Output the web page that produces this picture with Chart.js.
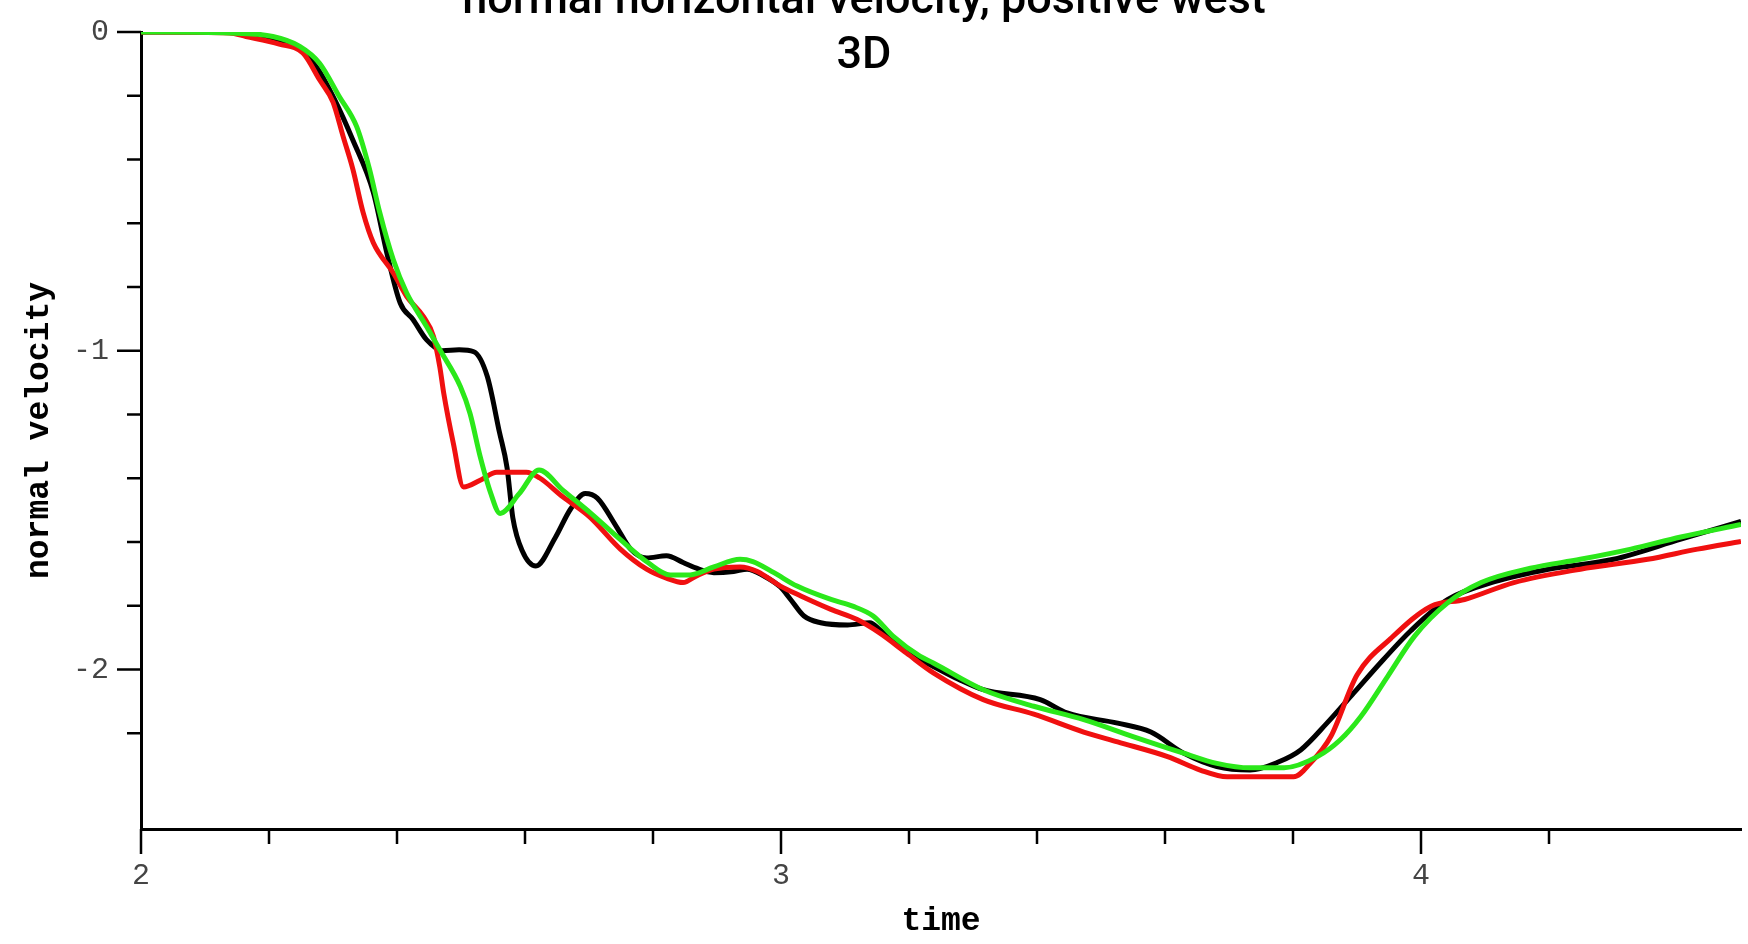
<!DOCTYPE html>
<html>
<head>
<meta charset="utf-8">
<script src="https://cdn.jsdelivr.net/npm/chart.js@4.4.1/dist/chart.umd.min.js"></script>
<style>
    html, body { margin: 0; padding: 0; background: #fff; }
</style>
</head>
<body>
<canvas id="velChart" width="1748" height="944"></canvas>
<script>

/// DATA ///

const titleLines = ['normal horizontal velocity, positive west', '3D'];
const xTitle = 'time';
const yTitle = 'normal velocity';

const blackTime = [2.0, 2.127, 2.18, 2.223, 2.249, 2.276, 2.302, 2.331, 2.363, 2.384, 2.405, 2.425, 2.446, 2.471, 2.497, 2.52,
    2.541, 2.56, 2.572, 2.581, 2.596, 2.617, 2.647, 2.671, 2.694, 2.713, 2.743, 2.765, 2.79, 2.821, 2.847, 2.868, 2.895,
    2.926, 2.947, 2.973, 2.999, 3.015, 3.036, 3.062, 3.104, 3.139, 3.154, 3.18, 3.207, 3.238, 3.278, 3.316, 3.405, 3.447,
    3.526, 3.578, 3.629, 3.681, 3.733, 3.777, 3.812, 3.853, 3.895, 3.941, 3.984, 4.042, 4.115, 4.199, 4.301, 4.406, 4.5];
const blackVel = [0, 0, -0.007, -0.031, -0.056, -0.115, -0.21, -0.339, -0.503, -0.692, -0.85, -0.902, -0.965, -1.0, -0.997, -1.003,
    -1.08, -1.255, -1.367, -1.524, -1.629, -1.675, -1.587, -1.497, -1.448, -1.462, -1.552, -1.622, -1.65, -1.643, -1.664, -1.682, -1.696,
    -1.692, -1.685, -1.706, -1.741, -1.78, -1.832, -1.853, -1.86, -1.853, -1.874, -1.916, -1.958, -1.99, -2.031, -2.063, -2.094, -2.136,
    -2.168, -2.196, -2.262, -2.304, -2.315, -2.29, -2.252, -2.168, -2.073, -1.969, -1.878, -1.78, -1.724, -1.685, -1.654, -1.591, -1.535];

const redTime = [2.0, 2.138, 2.164, 2.216, 2.253, 2.279, 2.3, 2.316, 2.331, 2.347, 2.363, 2.394, 2.415, 2.441, 2.457, 2.467,
    2.473, 2.488, 2.504, 2.53, 2.556, 2.602, 2.623, 2.659, 2.701, 2.749, 2.79, 2.821, 2.847, 2.868, 2.895, 2.936, 2.963,
    2.999, 3.031, 3.078, 3.119, 3.154, 3.196, 3.238, 3.316, 3.395, 3.473, 3.526, 3.604, 3.655, 3.697, 3.801, 3.827, 3.859,
    3.9, 3.953, 4.016, 4.068, 4.145, 4.249, 4.354, 4.432, 4.5];
const redVel = [0, -0.003, -0.014, -0.038, -0.066, -0.15, -0.22, -0.329, -0.43, -0.566, -0.661, -0.755, -0.829, -0.892, -0.955, -1.052,
    -1.133, -1.29, -1.427, -1.406, -1.381, -1.381, -1.399, -1.458, -1.521, -1.622, -1.685, -1.713, -1.727, -1.706, -1.685, -1.678, -1.692,
    -1.738, -1.769, -1.811, -1.843, -1.885, -1.948, -2.01, -2.094, -2.14, -2.196, -2.227, -2.273, -2.315, -2.336, -2.336, -2.294, -2.21,
    -2.017, -1.902, -1.801, -1.78, -1.727, -1.685, -1.654, -1.622, -1.598];

const greenTime = [2.0, 2.138, 2.206, 2.248, 2.279, 2.31, 2.337, 2.357, 2.373, 2.394, 2.415, 2.446, 2.467, 2.499, 2.514, 2.53,
    2.546, 2.561, 2.591, 2.622, 2.659, 2.703, 2.75, 2.792, 2.827, 2.858, 2.895, 2.936, 2.956, 2.989, 3.025, 3.078, 3.112,
    3.144, 3.175, 3.217, 3.238, 3.316, 3.395, 3.473, 3.55, 3.629, 3.681, 3.733, 3.786, 3.838, 3.874, 3.906, 3.948, 3.99,
    4.042, 4.094, 4.171, 4.249, 4.328, 4.406, 4.5];
const greenVel = [0, -0.003, -0.014, -0.045, -0.098, -0.203, -0.297, -0.43, -0.566, -0.713, -0.818, -0.923, -0.997, -1.112, -1.196, -1.332,
    -1.444, -1.51, -1.448, -1.374, -1.437, -1.51, -1.594, -1.664, -1.703, -1.703, -1.678, -1.654, -1.661, -1.696, -1.738, -1.78, -1.801,
    -1.832, -1.895, -1.958, -1.979, -2.063, -2.115, -2.157, -2.21, -2.262, -2.294, -2.308, -2.308, -2.273, -2.22, -2.147, -2.021, -1.895,
    -1.79, -1.727, -1.682, -1.654, -1.622, -1.584, -1.545];


/// HELPERS ///

function toPoints(times, vels) {
    return times.map((t, i) => ({ x: t, y: vels[i] }));
}

// ticks every 0.2, labels only on whole numbers
function onStep(v) {
    return Math.abs(v * 5 - Math.round(v * 5)) < 1e-6;
}
function isWhole(v) {
    return Math.abs(v - Math.round(v)) < 1e-6;
}
function wholeLabel(value) {
    return isWhole(value) ? String(Math.round(value)) : '';
}


/// PLUGINS ///

// tick marks: long on whole numbers, short in between
const axisTicks = {
    id: 'axisTicks',
    afterDraw(chart) {
        const ctx = chart.ctx;
        const area = chart.chartArea;
        const xs = chart.scales.x;
        const ys = chart.scales.y;
        ctx.save();
        ctx.strokeStyle = '#000';
        ctx.lineWidth = 2.5;
        ctx.beginPath();
        xs.ticks.forEach(t => {
            if (!onStep(t.value)) return;
            const px = xs.getPixelForValue(t.value);
            ctx.moveTo(px, area.bottom);
            ctx.lineTo(px, area.bottom + (isWhole(t.value) ? 25 : 15));
        });
        ys.ticks.forEach(t => {
            if (!onStep(t.value)) return;
            const py = ys.getPixelForValue(t.value);
            ctx.moveTo(area.left, py);
            ctx.lineTo(area.left - (isWhole(t.value) ? 24 : 14), py);
        });
        ctx.stroke();
        ctx.restore();
    }
};

// title sits partly above the page and overlaps the plot
const cutTitle = {
    id: 'cutTitle',
    afterDraw(chart) {
        const ctx = chart.ctx;
        ctx.save();
        ctx.fillStyle = '#000';
        ctx.font = '500 45px Roboto';
        ctx.textAlign = 'center';
        ctx.textBaseline = 'alphabetic';
        ctx.fillText(titleLines[0], 864, 13);
        ctx.fillText(titleLines[1], 864, 68);
        ctx.restore();
    }
};


/// CHART ///

const tickFont = { family: 'Liberation Mono', size: 30 };
const axisTitleFont = { family: 'Liberation Mono', size: 33, weight: 'bold' };

const ctx = document.getElementById('velChart').getContext('2d');

const config = {
    type: 'line',
    plugins: [axisTicks, cutTitle],
    data: {
        datasets: [
            { label: 'green', data: toPoints(greenTime, greenVel), borderColor: '#2be81a', order: 1 },
            { label: 'red', data: toPoints(redTime, redVel), borderColor: '#f01010', order: 2 },
            { label: 'black', data: toPoints(blackTime, blackVel), borderColor: '#000000', order: 3 }
        ]
    },
    options: {
        responsive: false,
        animation: false,
        layout: { autoPadding: false, padding: { top: 32, right: 7, bottom: 0, left: 0 } },
        elements: {
            point: { radius: 0 },
            line: { borderWidth: 5, cubicInterpolationMode: 'monotone', fill: false }
        },
        plugins: {
            legend: { display: false },
            tooltip: { enabled: false },
            title: { display: false }
        },
        scales: {
            x: {
                type: 'linear',
                min: 2,
                max: 4.5,
                grid: { display: false, drawTicks: false },
                border: { display: true, color: '#000', width: 3 },
                ticks: {
                    stepSize: 0.2,
                    autoSkip: false,
                    maxRotation: 0,
                    padding: 29,
                    color: '#444',
                    font: tickFont,
                    callback: wholeLabel
                },
                title: { display: true, text: xTitle, color: '#000', font: axisTitleFont, padding: { top: 0, bottom: 3 } },
                afterFit: s => {
                    s.height = 115;
                    s.paddingLeft = 0;
                    s.paddingRight = 0;
                }
            },
            y: {
                type: 'linear',
                min: -2.5,
                max: 0,
                grid: { display: false, drawTicks: false },
                border: { display: true, color: '#000', width: 3 },
                ticks: {
                    stepSize: 0.2,
                    autoSkip: false,
                    padding: 32,
                    color: '#444',
                    font: tickFont,
                    callback: wholeLabel
                },
                title: { display: true, text: yTitle, color: '#000', font: axisTitleFont, padding: { top: 20, bottom: 0 } },
                afterFit: s => {
                    s.width = 141;
                    s.paddingTop = 0;
                    s.paddingBottom = 0;
                }
            }
        }
    }
};

const velChart = new Chart(ctx, config);
</script>
</body>
</html>
